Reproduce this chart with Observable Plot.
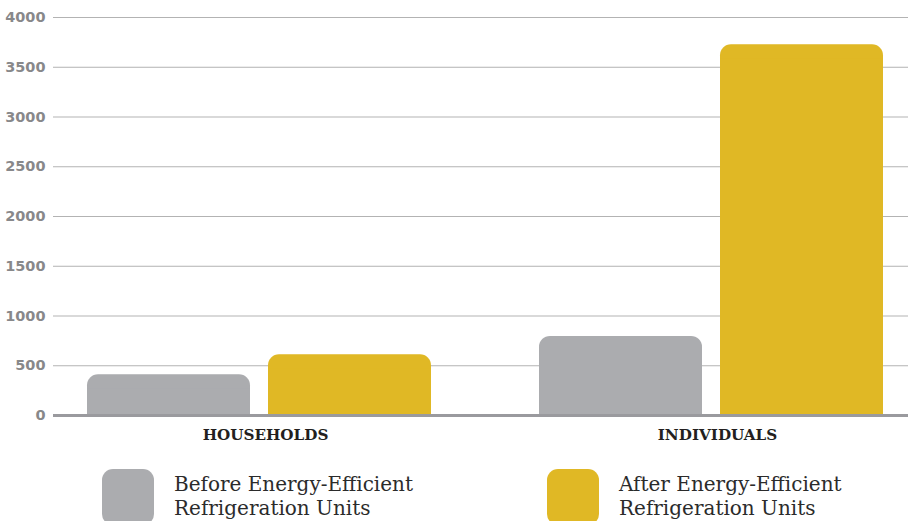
<!DOCTYPE html>
<html>
<head>
<meta charset="utf-8">
<script src="https://cdn.jsdelivr.net/npm/d3@7"></script>
<script src="https://cdn.jsdelivr.net/npm/@observablehq/plot@0.6"></script>
<style>
  html, body { margin: 0; padding: 0; background: #fff; }
  #wrap { position: relative; width: 908px; height: 521px; overflow: hidden; }
  svg g[aria-label^="y-axis"] text { font-family: "DejaVu Sans", sans-serif; font-weight: bold; font-size: 14.5px; fill: #88888a; }
  svg g[aria-label^="x-axis"] text { font-family: "DejaVu Serif", serif; font-weight: bold; font-size: 15.2px; fill: #231f20; }
  .legend { position: absolute; top: 469px; left: 0; width: 908px; }
  .item { position: absolute; top: 0; display: flex; }
  .sw { width: 52px; height: 56px; border-radius: 11px; }
  .lbl { margin-left: 20px; margin-top: 3px; font-family: "DejaVu Serif", serif; font-size: 20px; line-height: 24px; color: #2b2b2b; }
</style>
</head>
<body>
<div id="wrap"></div>
<script>
const groups = ["HOUSEHOLDS", "INDIVIDUALS"];
const seriesNames = ["Before Energy-Efficient Refrigeration Units", "After Energy-Efficient Refrigeration Units"];
const legendLines = [["Before Energy-Efficient", "Refrigeration Units"], ["After Energy-Efficient", "Refrigeration Units"]];
const beforeValues = [410, 795];
const afterValues = [610, 3725];
const yTicks = [0, 500, 1000, 1500, 2000, 2500, 3000, 3500, 4000];
const colors = ["#abacaf", "#e0b825"];

const data = groups.flatMap((g, i) => [
  {group: g, series: seriesNames[0], value: beforeValues[i]},
  {group: g, series: seriesNames[1], value: afterValues[i]}
]);

const barMarks = seriesNames.flatMap((s, k) => {
  const rows = data.filter(d => d.series === s);
  const insets = k === 0 ? {insetLeft: 0, insetRight: 181} : {insetLeft: 181, insetRight: 0};
  return [
    Plot.rectY(rows, {x: "group", y: "value", fill: colors[k], rx: 11, ...insets}),
    Plot.rectY(rows, {x: "group", y: "value", fill: colors[k], insetTop: 14, ...insets})
  ];
});

const chart = Plot.plot({
  width: 908,
  height: 452,
  marginLeft: 53,
  marginRight: 0,
  marginTop: 17,
  marginBottom: 37,
  style: {background: "#fff", overflow: "visible"},
  x: {type: "band", domain: groups, range: [87, 883.5], paddingInner: 0.24, paddingOuter: 0, label: null, tickSize: 0, tickPadding: 14},
  y: {domain: [0, 4000], ticks: yTicks, tickFormat: d => String(d), tickSize: 0, tickPadding: 8, label: null},
  marks: [
    Plot.ruleY(yTicks.slice(1), {stroke: "#b3b3b3", strokeWidth: 1}),
    ...barMarks,
    Plot.ruleY([0], {stroke: "#9a9a9e", strokeWidth: 3})
  ]
});
d3.select(chart).selectAll('g[aria-label^="x-axis"] text').attr("dx", 6);
document.getElementById("wrap").appendChild(chart);

const legend = document.createElement("div");
legend.className = "legend";
const lefts = [102, 547];
seriesNames.forEach((s, k) => {
  const item = document.createElement("div");
  item.className = "item";
  item.style.left = lefts[k] + "px";
  const sw = document.createElement("div");
  sw.className = "sw";
  sw.style.background = colors[k];
  const lbl = document.createElement("div");
  lbl.className = "lbl";
  lbl.innerHTML = legendLines[k].join("<br>");
  item.appendChild(sw);
  item.appendChild(lbl);
  legend.appendChild(item);
});
document.getElementById("wrap").appendChild(legend);
</script>
</body>
</html>
